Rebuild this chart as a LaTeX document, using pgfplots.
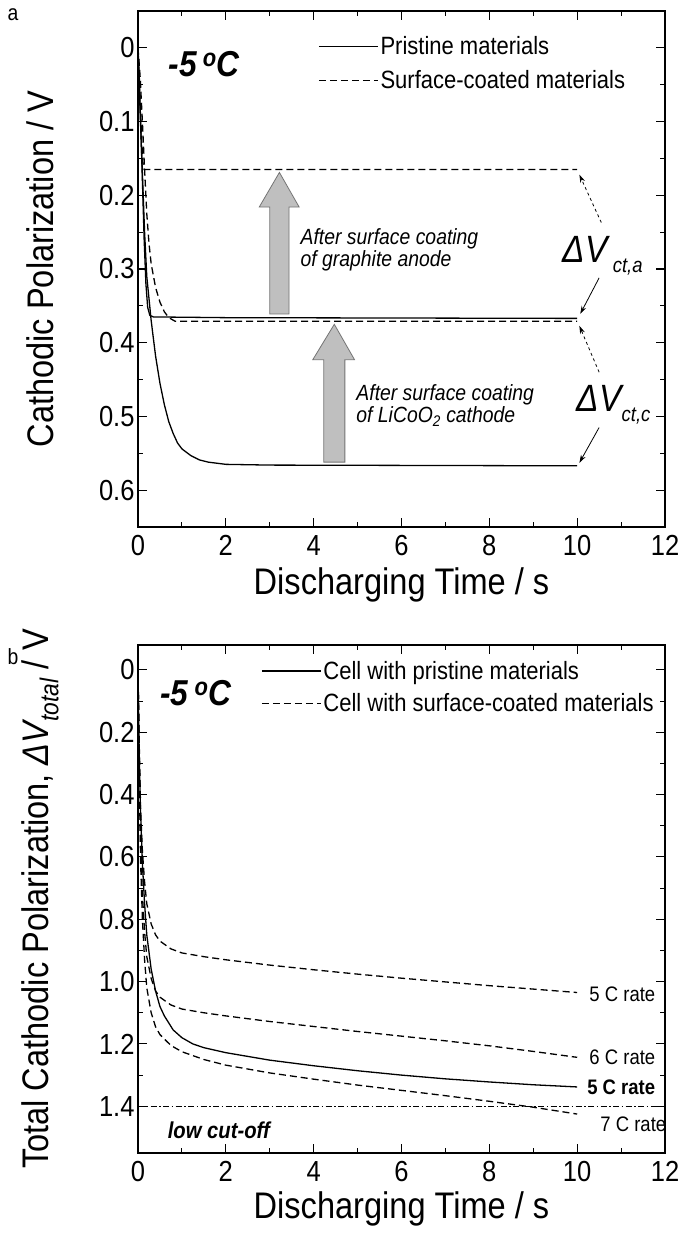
\documentclass[border=0pt]{standalone}
\usepackage{fontspec}
\setmainfont{Liberation Sans}[FakeStretch=0.88]
\usepackage{pgfplots}
\pgfplotsset{compat=1.18}
\usetikzlibrary{arrows.meta}
\newcommand{\fs}[1]{\fontsize{#1bp}{#1bp}\selectfont}
\newcommand{\degC}{-5\,\raisebox{10bp}{\fs{25}o}C}

\pgfplotsset{
  myax/.style={
    scale only axis, width=527bp, xmin=0, xmax=12, y dir=reverse,
    xtick={0,2,...,12}, xticklabels={0,2,4,6,8,10,12}, minor x tick num=1,
    tick align=inside, tick pos=both, xticklabel pos=lower, yticklabel pos=left,
    major tick length=9bp, minor tick length=5bp,
    every tick/.append style={line width=1.1bp, black},
    axis line style={line width=1.4bp},
    tick label style={font=\fs{29}},
    xticklabel style={yshift=-5bp},
    label style={font=\fs{37}},
    xlabel={Discharging Time / s},
    legend cell align=left,
    legend image code/.code={\draw[##1] (0bp,0bp) -- (59bp,0bp);},
  },
  crv/.style={black, line width=1.3bp, mark=none},
  dsh/.style={black, line width=1.3bp, mark=none, dash pattern=on 7bp off 4bp},
}

\begin{document}
\begin{tikzpicture}
\path[use as bounding box] (0bp,0bp) rectangle (684bp,-1235bp);

\node[font=\fs{22}] at (13bp,-15bp) {a};
\node[font=\fs{22}] at (13bp,-657bp) {b};

% ---------------- panel a ----------------
\begin{axis}[myax, at={(138bp,-11bp)}, anchor=north west, height=516bp,
  ymin=-0.05, ymax=0.65,
  ytick={0,0.1,0.2,0.3,0.4,0.5,0.6}, yticklabels={0,0.1,0.2,0.3,0.4,0.5,0.6},
  minor y tick num=1,
  ylabel={Cathodic Polarization / V},
  xlabel style={at={(axis description cs:0.5,-0.112)}, anchor=center},
  ylabel style={at={(axis description cs:-0.186,0.5)}, anchor=center},
  legend style={at={(axis cs:4.1,-0.018)}, anchor=north west, draw=none, fill=none,
    font=\fs{25}, inner sep=0pt, row sep=10bp},
]
% gray arrows
\draw[fill=black!25, draw=black!55, line width=0.8bp]
  (axis cs:3.0,0.361) -- (axis cs:3.0,0.216) -- (axis cs:2.76,0.216) -- (axis cs:3.22,0.169)
  -- (axis cs:3.67,0.216) -- (axis cs:3.44,0.216) -- (axis cs:3.44,0.361) -- cycle;
\draw[fill=black!25, draw=black!55, line width=0.8bp]
  (axis cs:4.23,0.562) -- (axis cs:4.23,0.423) -- (axis cs:3.98,0.423) -- (axis cs:4.47,0.375)
  -- (axis cs:4.93,0.423) -- (axis cs:4.71,0.423) -- (axis cs:4.71,0.562) -- cycle;

\addplot[crv] coordinates {(0,0) (0.03,0.04) (0.06,0.1) (0.1,0.18) (0.14,0.26) (0.18,0.32)
  (0.22,0.352) (0.27,0.363) (0.35,0.365) (2,0.366) (10,0.367)};
\addlegendentry{Pristine materials}
\addplot[dsh] coordinates {(0,0) (0.04,0.06) (0.08,0.12) (0.11,0.155) (0.14,0.165) (10,0.165)};
\addlegendentry{Surface-coated materials}
\addplot[crv, forget plot] coordinates {(0,0) (0.05,0.09) (0.1,0.17) (0.15,0.25) (0.2,0.31)
  (0.3,0.37) (0.4,0.418) (0.5,0.455) (0.6,0.484) (0.7,0.507) (0.8,0.523) (0.9,0.536)
  (1,0.544) (1.2,0.553) (1.4,0.559) (1.6,0.562) (2,0.565) (3,0.566) (10,0.567)};
\addplot[dsh, forget plot] coordinates {(0,0) (0.05,0.04) (0.1,0.1) (0.15,0.165) (0.2,0.225)
  (0.25,0.265) (0.3,0.293) (0.4,0.325) (0.5,0.345) (0.6,0.358) (0.7,0.366) (0.85,0.371) (10,0.371)};

\node[anchor=west, font=\fs{36}\bfseries\itshape] at (axis cs:0.62,0.022) {\degC};
\node[anchor=west, align=left, font=\fs{22}\itshape, inner sep=0pt] at (axis cs:3.7,0.2735)
  {After surface coating\\of graphite anode};
\node[anchor=west, align=left, font=\fs{22}\itshape, inner sep=0pt] at (axis cs:4.97,0.4855)
  {After surface coating\\of LiCoO\textsubscript{2} cathode};

\node[font=\fs{38}\itshape, inner sep=0pt] at (axis cs:10.18,0.274) {ΔV};
\node[font=\fs{21}\itshape, inner sep=0pt] at (axis cs:11.15,0.298) {ct,a};
\node[font=\fs{38}\itshape, inner sep=0pt] at (axis cs:10.5,0.475) {ΔV};
\node[font=\fs{21}\itshape, inner sep=0pt] at (axis cs:11.34,0.50) {ct,c};

\draw[dashed, line width=0.8bp, -{Stealth[length=8bp,width=5bp]}] (axis cs:10.55,0.237) -- (axis cs:10.05,0.172);
\draw[line width=0.8bp, -{Stealth[length=8bp,width=5bp]}] (axis cs:10.5,0.312) -- (axis cs:10.07,0.361);
\draw[dashed, line width=0.8bp, -{Stealth[length=8bp,width=5bp]}] (axis cs:10.5,0.44) -- (axis cs:10.05,0.377);
\draw[line width=0.8bp, -{Stealth[length=8bp,width=5bp]}] (axis cs:10.5,0.515) -- (axis cs:10.05,0.563);
\end{axis}

% ---------------- panel b ----------------
\begin{axis}[myax, at={(138bp,-645bp)}, anchor=north west, height=508bp,
  ymin=-0.08, ymax=1.55,
  ytick={0,0.2,0.4,0.6,0.8,1.0,1.2,1.4}, yticklabels={0,0.2,0.4,0.6,0.8,1.0,1.2,1.4},
  minor y tick num=1,
  ylabel={Total Cathodic Polarization, {\itshape ΔV\textsubscript{total}} / V},
  xlabel style={at={(axis description cs:0.5,-0.11)}, anchor=center},
  ylabel style={at={(axis description cs:-0.186,0.5)}, anchor=center},
  legend style={at={(axis cs:2.8,-0.035)}, anchor=north west, draw=none, fill=none,
    font=\fs{25}, inner sep=0pt, row sep=9bp},
]
\addplot[crv] coordinates {(0,0) (0.02,0.2) (0.05,0.42) (0.1,0.62) (0.15,0.75) (0.2,0.85)
  (0.3,0.96) (0.4,1.03) (0.5,1.08) (0.6,1.11) (0.8,1.155) (1,1.18) (1.25,1.2) (1.5,1.212)
  (2,1.228) (3,1.252) (4,1.27) (5,1.286) (6,1.3) (7,1.312) (8,1.322) (9,1.331) (10,1.338)};
\addlegendentry{Cell with pristine materials}
\addplot[dsh] coordinates {(0,0) (0.03,0.25) (0.06,0.45) (0.1,0.58) (0.15,0.68) (0.2,0.75)
  (0.3,0.815) (0.4,0.85) (0.5,0.87) (0.75,0.895) (1,0.908) (1.5,0.92) (2,0.93) (3,0.947)
  (4,0.962) (5,0.976) (6,0.989) (7,1.001) (8,1.013) (9,1.024) (10,1.035)};
\addlegendentry{Cell with surface-coated materials}
\addplot[dsh, forget plot] coordinates {(0,0) (0.03,0.3) (0.06,0.55) (0.1,0.72) (0.15,0.84)
  (0.2,0.92) (0.3,0.99) (0.4,1.03) (0.5,1.05) (0.75,1.075) (1,1.088) (1.5,1.1) (2,1.11)
  (3,1.128) (4,1.144) (5,1.16) (6,1.175) (7,1.19) (8,1.206) (9,1.224) (10,1.243)};
\addplot[dsh, forget plot] coordinates {(0,0) (0.03,0.35) (0.06,0.62) (0.1,0.8) (0.15,0.93)
  (0.2,1.02) (0.3,1.1) (0.4,1.145) (0.5,1.17) (0.75,1.205) (1,1.225) (1.5,1.25) (2,1.268)
  (3,1.293) (4,1.313) (5,1.332) (6,1.349) (7,1.366) (8,1.384) (9,1.403) (10,1.425)};
\addplot[black, line width=1bp, mark=none, forget plot,
  dash pattern=on 6bp off 2.5bp on 1.5bp off 2.5bp] coordinates {(0,1.4) (12,1.4)};

\node[anchor=west, font=\fs{36}\bfseries\itshape] at (axis cs:0.43,0.073) {\degC};
\node[anchor=west, font=\fs{23}\bfseries\itshape] at (axis cs:0.6,1.477) {low cut-off};
\node[anchor=west, font=\fs{21}] at (axis cs:10.2,1.04) {5 C rate};
\node[anchor=west, font=\fs{21}] at (axis cs:10.2,1.243) {6 C rate};
\node[anchor=west, font=\fs{21}\bfseries] at (axis cs:10.15,1.338) {5 C rate};
\node[anchor=west, font=\fs{21}] at (axis cs:10.45,1.458) {7 C rate};
\end{axis}
\end{tikzpicture}
\end{document}
